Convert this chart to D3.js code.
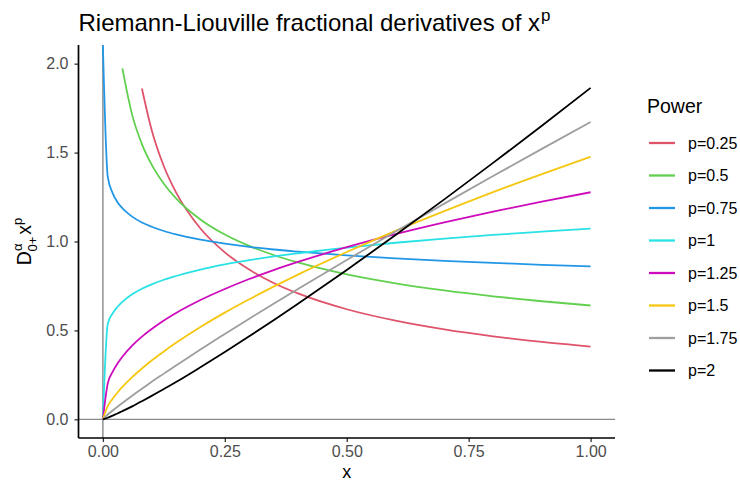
<!DOCTYPE html>
<html>
<head>
<meta charset="utf-8">
<script src="https://cdn.jsdelivr.net/npm/d3@7"></script>
<style>
  body { margin: 0; background: #fff; }
  text { font-family: "Liberation Sans", Arial, sans-serif; }
</style>
</head>
<body>
<script>
// values

const xs = [0, 0.01, 0.02, 0.03, 0.04, 0.06, 0.08, 0.1, 0.125, 0.15, 0.2,
            0.25, 0.3, 0.35, 0.4, 0.5, 0.6, 0.7, 0.8, 0.9, 1.0];

const powers = ["p=0.25", "p=0.5", "p=0.75", "p=1", "p=1.25", "p=1.5", "p=1.75", "p=2"];

const p025 = [null, null, null, null, null, null, 1.860, 1.627, 1.423, 1.276, 1.073,
              0.939, 0.842, 0.767, 0.708, 0.619, 0.555, 0.506, 0.467, 0.435, 0.409];
const p050 = [null, null, null, null, 1.974, 1.712, 1.548, 1.432, 1.325, 1.243, 1.124,
              1.039, 0.975, 0.924, 0.882, 0.815, 0.765, 0.725, 0.692, 0.664, 0.640];
const p075 = [Infinity, 1.363, 1.272, 1.221, 1.187, 1.140, 1.107, 1.083, 1.059, 1.040, 1.010,
              0.988, 0.970, 0.955, 0.943, 0.922, 0.905, 0.891, 0.880, 0.869, 0.860];
const p100 = [0, 0.537, 0.596, 0.633, 0.661, 0.703, 0.734, 0.759, 0.785, 0.806, 0.842,
              0.871, 0.895, 0.916, 0.934, 0.966, 0.993, 1.016, 1.037, 1.055, 1.072];
const p125 = [0, 0.202, 0.267, 0.314, 0.352, 0.414, 0.465, 0.508, 0.556, 0.598, 0.671,
              0.733, 0.789, 0.839, 0.885, 0.968, 1.041, 1.107, 1.168, 1.224, 1.277];
const p150 = [0, 0.074, 0.116, 0.151, 0.182, 0.237, 0.286, 0.331, 0.382, 0.430, 0.519,
              0.600, 0.675, 0.746, 0.814, 0.941, 1.060, 1.171, 1.278, 1.379, 1.477];
const p175 = [0, 0.027, 0.050, 0.071, 0.092, 0.133, 0.172, 0.211, 0.257, 0.303, 0.393,
              0.480, 0.566, 0.650, 0.733, 0.896, 1.056, 1.213, 1.368, 1.521, 1.672];
const p200 = [0, 0.009, 0.021, 0.033, 0.046, 0.073, 0.102, 0.132, 0.171, 0.210, 0.293,
              0.379, 0.467, 0.557, 0.650, 0.840, 1.036, 1.237, 1.442, 1.651, 1.864];

const seriesValues = [p025, p050, p075, p100, p125, p150, p175, p200];

const xTicks = [0, 0.25, 0.5, 0.75, 1];
const yTicks = [0, 0.5, 1, 1.5, 2];

const colors = ["#DF536B", "#61D04F", "#2297E6", "#28E2E5",
                "#CD0BBC", "#F5C710", "#9E9E9E", "#000000"];

// layout

const w = 740;
const h = 482;
const panel = {left: 78.5, right: 615, top: 45, bottom: 438};

const xScale = d3.scaleLinear()
    .domain([-0.05, 1.05])
    .range([panel.left, panel.right]);

const yScale = d3.scaleLinear()
    .domain([-0.105, 2.105])
    .range([panel.bottom, panel.top])
    .clamp(true);

const svg = d3.select("body")
  .append("svg")
    .attr("width", w)
    .attr("height", h);

svg.append("defs").append("clipPath")
    .attr("id", "panel-clip")
  .append("rect")
    .attr("x", panel.left)
    .attr("y", panel.top)
    .attr("width", panel.right - panel.left)
    .attr("height", panel.bottom - panel.top);

// reference lines at x = 0 and y = 0

const plot = svg.append("g").attr("clip-path", "url(#panel-clip)");

plot.append("line")
    .attr("x1", panel.left).attr("x2", panel.right)
    .attr("y1", yScale(0)).attr("y2", yScale(0))
    .attr("stroke", "#8a8a8a")
    .attr("stroke-width", 1.4);

plot.append("line")
    .attr("x1", xScale(0)).attr("x2", xScale(0))
    .attr("y1", panel.top).attr("y2", panel.bottom)
    .attr("stroke", "#8a8a8a")
    .attr("stroke-width", 1.4);

// curves

const series = powers.map((name, i) => ({
  name: name,
  color: colors[i],
  points: xs.map((x, j) => ({x: x, y: seriesValues[i][j]}))
}));

const line = d3.line()
    .defined(d => d.y != null)
    .x(d => xScale(d.x))
    .y(d => yScale(d.y))
    .curve(d3.curveMonotoneX);

plot.selectAll("path.curve")
    .data(series)
  .enter().append("path")
    .attr("class", "curve")
    .attr("d", d => line(d.points))
    .attr("fill", "none")
    .attr("stroke", d => d.color)
    .attr("stroke-width", 1.8)
    .attr("stroke-linejoin", "round");

// axes

const xAxis = d3.axisBottom(xScale)
    .tickValues(xTicks)
    .tickFormat(d3.format(".2f"))
    .tickSize(4)
    .tickPadding(4);

const yAxis = d3.axisLeft(yScale)
    .tickValues(yTicks)
    .tickFormat(d3.format(".1f"))
    .tickSize(4)
    .tickPadding(6);

const gx = svg.append("g")
    .attr("transform", `translate(0, ${panel.bottom})`)
    .call(xAxis);

const gy = svg.append("g")
    .attr("transform", `translate(${panel.left}, 0)`)
    .call(yAxis);

[gx, gy].forEach(g => {
  g.select(".domain").remove();
  g.selectAll(".tick line").attr("stroke", "#333").attr("stroke-width", 1.3);
  g.selectAll(".tick text")
      .attr("fill", "#4d4d4d")
      .style("font-size", "16px")
      .style("font-family", "'Liberation Sans', Arial, sans-serif");
});

svg.append("line")
    .attr("x1", panel.left).attr("x2", panel.right)
    .attr("y1", panel.bottom).attr("y2", panel.bottom)
    .attr("stroke", "#000").attr("stroke-width", 1.7);

svg.append("line")
    .attr("x1", panel.left).attr("x2", panel.left)
    .attr("y1", panel.top).attr("y2", panel.bottom)
    .attr("stroke", "#000").attr("stroke-width", 1.7);

// titles

const title = svg.append("text")
    .attr("x", panel.left)
    .attr("y", 31)
    .attr("fill", "#000")
    .style("font-size", "24px");
title.append("tspan").text("Riemann-Liouville fractional derivatives of x");
title.append("tspan").attr("dx", 1).attr("dy", -10).style("font-size", "17px").text("p");

svg.append("text")
    .attr("x", (panel.left + panel.right) / 2)
    .attr("y", 477.5)
    .attr("text-anchor", "middle")
    .style("font-size", "18px")
    .text("x");

const ylab = svg.append("text")
    .attr("transform", `translate(31, ${(panel.top + panel.bottom) / 2}) rotate(-90)`)
    .attr("text-anchor", "middle")
    .style("font-size", "19.5px");
ylab.append("tspan").text("D");
ylab.append("tspan").attr("dy", -9).style("font-size", "13px").text("α");
ylab.append("tspan").attr("dx", -8).attr("dy", 15).style("font-size", "13px").text("0+");
ylab.append("tspan").attr("dx", 2).attr("dy", -6).text("x");
ylab.append("tspan").attr("dy", -9).style("font-size", "13px").text("p");

// legend

const legend = svg.append("g")
    .attr("transform", "translate(647, 0)");

legend.append("text")
    .attr("x", 0)
    .attr("y", 113)
    .style("font-size", "19.5px")
    .text("Power");

const keys = legend.selectAll("g.key")
    .data(series)
  .enter().append("g")
    .attr("class", "key")
    .attr("transform", (d, i) => `translate(0, ${143 + i * 32.5})`);

keys.append("line")
    .attr("x1", 2).attr("x2", 28)
    .attr("stroke", d => d.color)
    .attr("stroke-width", 2.3);

keys.append("text")
    .attr("x", 41)
    .attr("y", 5.5)
    .style("font-size", "16px")
    .attr("fill", "#000")
    .text(d => d.name);
</script>
</body>
</html>
